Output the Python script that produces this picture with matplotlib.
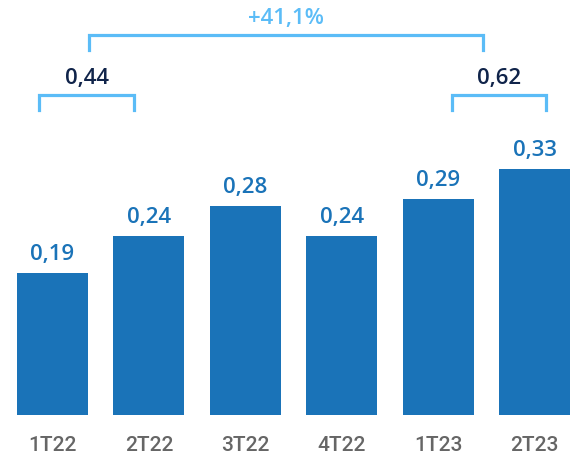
import numpy as np
import matplotlib
matplotlib.use('Agg')
import matplotlib.pyplot as plt

# data
quarters = ['1T22', '2T22', '3T22', '4T22', '1T23', '2T23']
values = [0.19, 0.24, 0.28, 0.24, 0.29, 0.33]
labels = ['0,19', '0,24', '0,28', '0,24', '0,29', '0,33']
sum_left = '0,44'
sum_right = '0,62'
growth = '+41,1%'

bar_color = '#1a73b8'
bracket_color = '#5bbcf7'
dark = '#10244a'

plt.rcParams['font.family'] = ['Open Sans', 'DejaVu Sans']

fig = plt.figure(figsize=(5.7, 4.58), dpi=100)
ax = fig.add_axes([0, 43 / 458, 1, 415 / 458])

x = np.arange(len(quarters))
ax.bar(x, values, width=0.737, color=bar_color)
ax.set_xlim(-0.545, 5.368)
ax.set_ylim(0, 415 / 745)

for xi, v, lab in zip(x, values, labels):
    ax.text(xi, v + 0.011, lab, ha='center', va='bottom',
            fontsize=16, color=bar_color, fontweight='semibold')

ax.set_xticks(x)
ax.set_xticklabels(quarters, fontsize=15, color='#666666', fontweight='medium',
                   family=['Roboto', 'DejaVu Sans'])
ax.tick_params(axis='x', length=0, pad=15)
ax.tick_params(axis='y', left=False, labelleft=False)
for s in ax.spines.values():
    s.set_visible(False)


def bracket(x0, x1, y, drop, text, tcolor, ty):
    ax.plot([x0, x0, x1, x1], [y - drop, y, y, y - drop], color=bracket_color,
            lw=2.3, clip_on=False, solid_joinstyle='miter')
    ax.text((x0 + x1) / 2, ty, text, ha='center', va='center',
            fontsize=16, color=tcolor, fontweight='semibold')


bracket(x[0] - 0.14, x[1] - 0.155, 0.4295, 0.02, sum_left, dark, 0.452)
bracket(x[4] + 0.144, x[5] + 0.119, 0.4295, 0.02, sum_right, dark, 0.452)
bracket(x[0] + 0.378, x[4] + 0.465, 0.510, 0.02, growth, bracket_color, 0.532)

fig.savefig('out.png', dpi=100)
